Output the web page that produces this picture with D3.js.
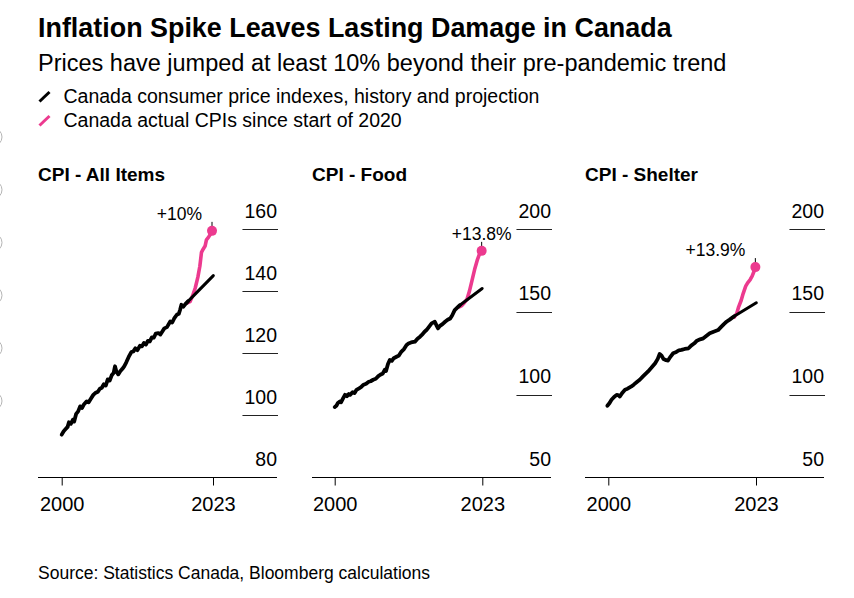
<!DOCTYPE html>
<html>
<head>
<meta charset="utf-8">
<script src="https://d3js.org/d3.v7.min.js"></script>
<style>
  body { margin: 0; background: #fff; }
  svg text { font-family: "Liberation Sans", Arial, sans-serif; fill: #000; }
</style>
</head>
<body>
<div id="container"></div>
<script>
const width = 854;
const height = 598;
const pink = "#ec3a8f";

// tick labels
const xTicks = [2000, 2023];
const yTicksAll = [80, 100, 120, 140, 160];
const yTicksFood = [50, 100, 150, 200];
const yTicksShelter = [50, 100, 150, 200];

// CPI - All Items  [year, index]
const allHistory = [
  [2000.0, 93.8], [2000.3, 94.9], [2000.6, 95.6], [2000.9, 96.3], [2001.1, 97.8],
  [2001.4, 97.3], [2001.7, 98.6], [2001.9, 98.0], [2002.2, 100.5], [2002.5, 101.3],
  [2002.8, 102.9], [2003.1, 102.4], [2003.4, 103.6], [2003.8, 104.5], [2004.1, 104.2],
  [2004.5, 105.6], [2004.8, 106.6], [2005.1, 107.2], [2005.5, 107.6], [2005.8, 108.6],
  [2006.1, 108.9], [2006.4, 110.0], [2006.7, 109.6], [2007.0, 111.6], [2007.3, 111.2],
  [2007.6, 112.9], [2007.9, 113.7], [2008.1, 115.8], [2008.3, 114.2], [2008.6, 113.2],
  [2008.9, 114.2], [2009.2, 114.9], [2009.5, 115.8], [2009.8, 117.0], [2010.2, 118.9],
  [2010.6, 120.4], [2010.9, 120.6], [2011.2, 121.6], [2011.5, 121.0], [2011.9, 122.4],
  [2012.2, 122.2], [2012.5, 123.3], [2012.8, 122.8], [2013.1, 124.0], [2013.4, 123.8],
  [2013.7, 125.1], [2014.0, 125.0], [2014.3, 126.3], [2014.7, 126.5], [2015.0, 126.0],
  [2015.2, 126.7], [2015.6, 128.0], [2016.0, 128.4], [2016.5, 130.2], [2016.8, 129.9],
  [2017.1, 131.2], [2017.5, 132.4], [2017.8, 132.7], [2018.0, 134.0], [2018.2, 135.6],
  [2018.5, 135.0], [2018.8, 135.8], [2019.2, 136.7]
];
const allProjection = [[2019.2, 136.7], [2023.05, 145.0]];
const allActual = [
  [2019.1, 136.2], [2019.5, 136.6], [2019.9, 138.5], [2020.3, 141.0], [2020.7, 144.5],
  [2021.0, 148.0], [2021.25, 152.5], [2021.5, 153.5], [2021.8, 154.5], [2022.0, 156.5],
  [2022.3, 157.3], [2022.6, 158.3], [2022.85, 159.4]
];

// CPI - Food
const foodHistory = [
  [2000.0, 92.5], [2000.3, 93.5], [2000.5, 95.0], [2000.8, 95.9], [2001.0, 95.4],
  [2001.3, 97.8], [2001.6, 99.9], [2001.9, 99.0], [2002.2, 100.4], [2002.4, 99.9],
  [2002.8, 101.5], [2003.1, 101.0], [2003.4, 102.9], [2003.8, 103.8], [2004.1, 104.5],
  [2004.5, 106.0], [2004.9, 106.6], [2005.3, 107.8], [2005.6, 108.1], [2006.0, 109.0],
  [2006.4, 109.6], [2006.8, 111.2], [2007.1, 112.0], [2007.5, 112.8], [2007.8, 115.0],
  [2008.0, 114.3], [2008.3, 118.5], [2008.6, 121.0], [2008.9, 120.4], [2009.2, 122.0],
  [2009.7, 123.0], [2010.0, 123.6], [2010.4, 126.0], [2010.8, 127.5], [2011.2, 130.0],
  [2011.5, 130.9], [2011.9, 131.5], [2012.5, 132.0], [2012.9, 133.8], [2013.3, 135.0],
  [2013.7, 136.5], [2014.0, 138.0], [2014.3, 139.0], [2014.6, 140.5], [2015.1, 143.0],
  [2015.6, 144.0], [2015.9, 141.5], [2016.1, 140.0], [2016.4, 141.5], [2016.8, 142.6],
  [2017.2, 144.0], [2017.6, 145.2], [2018.0, 146.0], [2018.3, 147.8], [2018.7, 151.0],
  [2019.1, 152.5], [2019.5, 154.0]
];
const foodProjection = [[2019.5, 154.0], [2022.98, 164.1]];
const foodActual = [
  [2019.4, 153.0], [2019.8, 153.8], [2020.2, 155.5], [2020.6, 157.5], [2021.0, 162.5],
  [2021.4, 169.0], [2021.8, 175.5], [2022.2, 181.0], [2022.55, 184.8], [2022.9, 186.8]
];

// CPI - Shelter
const shelterHistory = [
  [1999.85, 93.3], [2000.2, 95.0], [2000.5, 96.9], [2000.9, 98.6], [2001.3, 99.9],
  [2001.6, 99.6], [2001.8, 98.9], [2002.2, 101.2], [2002.6, 103.0], [2003.0, 103.6],
  [2003.6, 105.0], [2004.0, 106.2], [2004.5, 107.8], [2004.9, 109.0], [2005.4, 111.0],
  [2005.8, 112.5], [2006.2, 114.0], [2006.7, 116.2], [2007.3, 119.0], [2007.7, 121.6],
  [2008.0, 124.6], [2008.3, 123.6], [2008.6, 121.5], [2009.0, 120.8], [2009.3, 120.6],
  [2009.7, 123.0], [2010.1, 125.0], [2010.6, 125.8], [2011.0, 126.8], [2011.4, 127.0],
  [2011.9, 127.6], [2012.5, 128.0], [2012.9, 129.6], [2013.4, 131.0], [2013.8, 132.6],
  [2014.3, 133.4], [2014.8, 134.0], [2015.3, 135.5], [2015.8, 137.0], [2016.4, 138.0],
  [2017.1, 139.0], [2017.5, 140.6], [2018.0, 142.6], [2018.4, 144.0], [2018.9, 145.3],
  [2019.6, 147.3]
];
const shelterProjection = [[2019.6, 147.3], [2023.05, 155.5]];
const shelterActual = [
  [2019.6, 146.8], [2020.0, 149.0], [2020.3, 153.0], [2020.7, 157.0], [2021.0, 161.0],
  [2021.4, 165.5], [2021.7, 167.5], [2022.1, 169.5], [2022.4, 171.5], [2022.7, 174.5],
  [2022.9, 177.0]
];

const panels = [
  { title: "CPI - All Items", history: allHistory, projection: allProjection, actual: allActual,
    yTicks: yTicksAll, note: "+10%", noteAnchor: "end", left: 38, xRange: [23.7, 175] },
  { title: "CPI - Food", history: foodHistory, projection: foodProjection, actual: foodActual,
    yTicks: yTicksFood, note: "+13.8%", noteAnchor: "middle", left: 312, xRange: [22.7, 170.3] },
  { title: "CPI - Shelter", history: shelterHistory, projection: shelterProjection, actual: shelterActual,
    yTicks: yTicksShelter, note: "+13.9%", noteAnchor: "end", left: 585, xRange: [23.3, 171] }
];

const svg = d3.select("#container").append("svg")
    .attr("width", width)
    .attr("height", height);

// page furniture at the left edge of the screenshot
svg.selectAll("circle.edge").data(d3.range(6)).enter()
    .append("circle")
    .attr("cx", -7)
    .attr("cy", function(d) { return 137 + d * 52.8; })
    .attr("r", 9)
    .attr("fill", "none")
    .attr("stroke", "#b5b5b5");

svg.append("text")
    .attr("x", 38).attr("y", 36.5)
    .style("font-size", "26.9px").style("font-weight", "bold")
    .text("Inflation Spike Leaves Lasting Damage in Canada");

svg.append("text")
    .attr("x", 38).attr("y", 71)
    .style("font-size", "23.5px")
    .text("Prices have jumped at least 10% beyond their pre-pandemic trend");

// legend
const legend = [
  { color: "#000", label: "Canada consumer price indexes, history and projection" },
  { color: pink, label: "Canada actual CPIs since start of 2020" }
];
legend.forEach(function(l, i) {
    const ly = 103 + i * 24;
    svg.append("line")
        .attr("x1", 39.5).attr("y1", ly - 1.5)
        .attr("x2", 49.5).attr("y2", ly - 11)
        .attr("stroke", l.color).attr("stroke-width", 3);
    svg.append("text")
        .attr("x", 63.5).attr("y", ly)
        .style("font-size", "19.5px")
        .text(l.label);
});

const panelW = 239;
const axisY = 477.5;
const topY = 229;

panels.forEach(function(p) {
    const g = svg.append("g").attr("transform", "translate(" + p.left + ",0)");

    const x = d3.scaleLinear().domain([2000, 2023]).range(p.xRange);
    const y = d3.scaleLinear().domain(d3.extent(p.yTicks)).range([axisY, topY]);

    g.append("text")
        .attr("x", 0).attr("y", 180.5)
        .style("font-size", "19px").style("font-weight", "bold")
        .text(p.title);

    // x axis
    const xaxis = d3.axisBottom(x)
        .tickValues(xTicks)
        .tickFormat(d3.format("d"))
        .tickSize(8)
        .tickPadding(11);
    const gx = g.append("g")
        .attr("transform", "translate(0," + axisY + ")")
        .attr("font-family", null)
        .attr("font-size", null)
        .call(xaxis);
    gx.select(".domain").remove();
    gx.selectAll(".tick line").attr("stroke", "#000");
    gx.selectAll(".tick text").style("font-size", "20px").attr("fill", "#000");
    gx.append("line")
        .attr("x1", 0).attr("x2", panelW)
        .attr("stroke", "#000");

    // y labels sit above short rules on the right
    const ylab = g.selectAll("text.ylab").data(p.yTicks).enter()
        .append("text")
        .attr("class", "ylab")
        .attr("x", panelW)
        .attr("y", function(d) { return y(d) - 11.5; })
        .attr("text-anchor", "end")
        .style("font-size", "19.5px")
        .text(function(d) { return d; });
    const maxW = d3.max(ylab.nodes(), function(n) { return n.getComputedTextLength(); });
    g.selectAll("line.grid").data(p.yTicks.slice(1)).enter()
        .append("line")
        .attr("class", "grid")
        .attr("x1", panelW - maxW - 2).attr("x2", panelW + 1)
        .attr("y1", function(d) { return Math.round(y(d)) + 0.5; })
        .attr("y2", function(d) { return Math.round(y(d)) + 0.5; })
        .attr("stroke", "#222");

    const line = d3.line()
        .x(function(d) { return x(d[0]); })
        .y(function(d) { return y(d[1]); });

    g.append("path").attr("d", line(p.actual))
        .attr("fill", "none").attr("stroke", pink)
        .attr("stroke-width", 3.6).attr("stroke-linejoin", "round").attr("stroke-linecap", "round");

    g.append("path").attr("d", line(p.history))
        .attr("fill", "none").attr("stroke", "#000")
        .attr("stroke-width", 3.8).attr("stroke-linejoin", "round").attr("stroke-linecap", "round");

    g.append("path").attr("d", line(p.projection))
        .attr("fill", "none").attr("stroke", "#000")
        .attr("stroke-width", 3).attr("stroke-linecap", "round");

    const last = p.actual[p.actual.length - 1];
    const cx = x(last[0]);
    const cy = y(last[1]);

    g.append("line")
        .attr("x1", cx).attr("x2", cx)
        .attr("y1", cy - 4).attr("y2", cy - 9)
        .attr("stroke", "#000");

    g.append("circle")
        .attr("cx", cx).attr("cy", cy).attr("r", 5)
        .attr("fill", pink);

    g.append("text")
        .attr("x", p.noteAnchor === "end" ? cx - 10 : cx)
        .attr("y", cy - 11)
        .attr("text-anchor", p.noteAnchor)
        .style("font-size", "17.5px")
        .text(p.note);
});

svg.append("text")
    .attr("x", 38).attr("y", 579)
    .style("font-size", "17.5px")
    .text("Source: Statistics Canada, Bloomberg calculations");
</script>
</body>
</html>
